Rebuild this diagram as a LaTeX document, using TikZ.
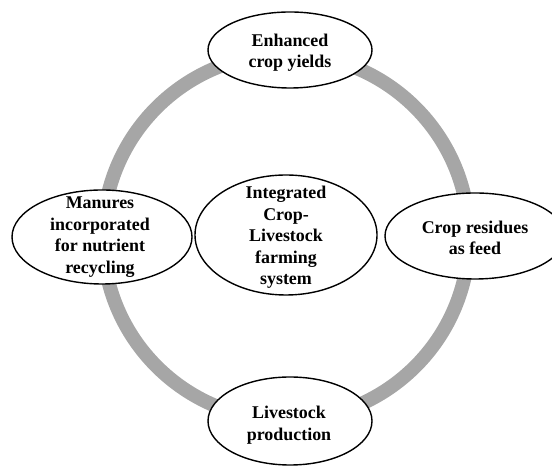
\documentclass[tikz,border=0pt]{standalone}
\usepackage{fontspec}
\setmainfont{Liberation Serif}
\usetikzlibrary{shapes.geometric}
\begin{document}
\begin{tikzpicture}[x=1bp,y=1bp,
  oval/.style={ellipse, draw=black, line width=1.4bp, fill=white, inner sep=0pt},
  lbl/.style={align=center, font=\bfseries\fontsize{18}{21.5}\selectfont, inner sep=0pt},
  ring/.style={draw=black!35, line width=14bp}]
\useasboundingbox (0,0) rectangle (552,467);
\clip (0,0) rectangle (552,467);
\coordinate (c) at (286,230);
\draw[ring] (c) circle (183);
\node[oval, minimum width=164bp, minimum height=76bp] (top) at (290,417) {};
\node[oval, minimum width=180bp, minimum height=94bp] (left) at (102,230) {};
\node[oval, minimum width=182bp, minimum height=120bp] (center) at (286,232) {};
\node[oval, minimum width=180bp, minimum height=86bp] (right) at (475,231) {};
\node[oval, minimum width=164bp, minimum height=88bp] (bottom) at (290,46) {};
\node[lbl] (toptxt) at (290,414) {Enhanced\\crop yields};
\node[lbl] (lefttxt) at (100,230) {Manures\\incorporated\\for nutrient\\recycling};
\node[lbl] (centertxt) at (286,229.5) {Integrated\\Crop-\\Livestock\\farming\\system};
\node[lbl] (righttxt) at (475,229) {Crop residues\\as feed};
\node[lbl] (bottomtxt) at (289,42) {Livestock\\production};
\end{tikzpicture}
\end{document}
